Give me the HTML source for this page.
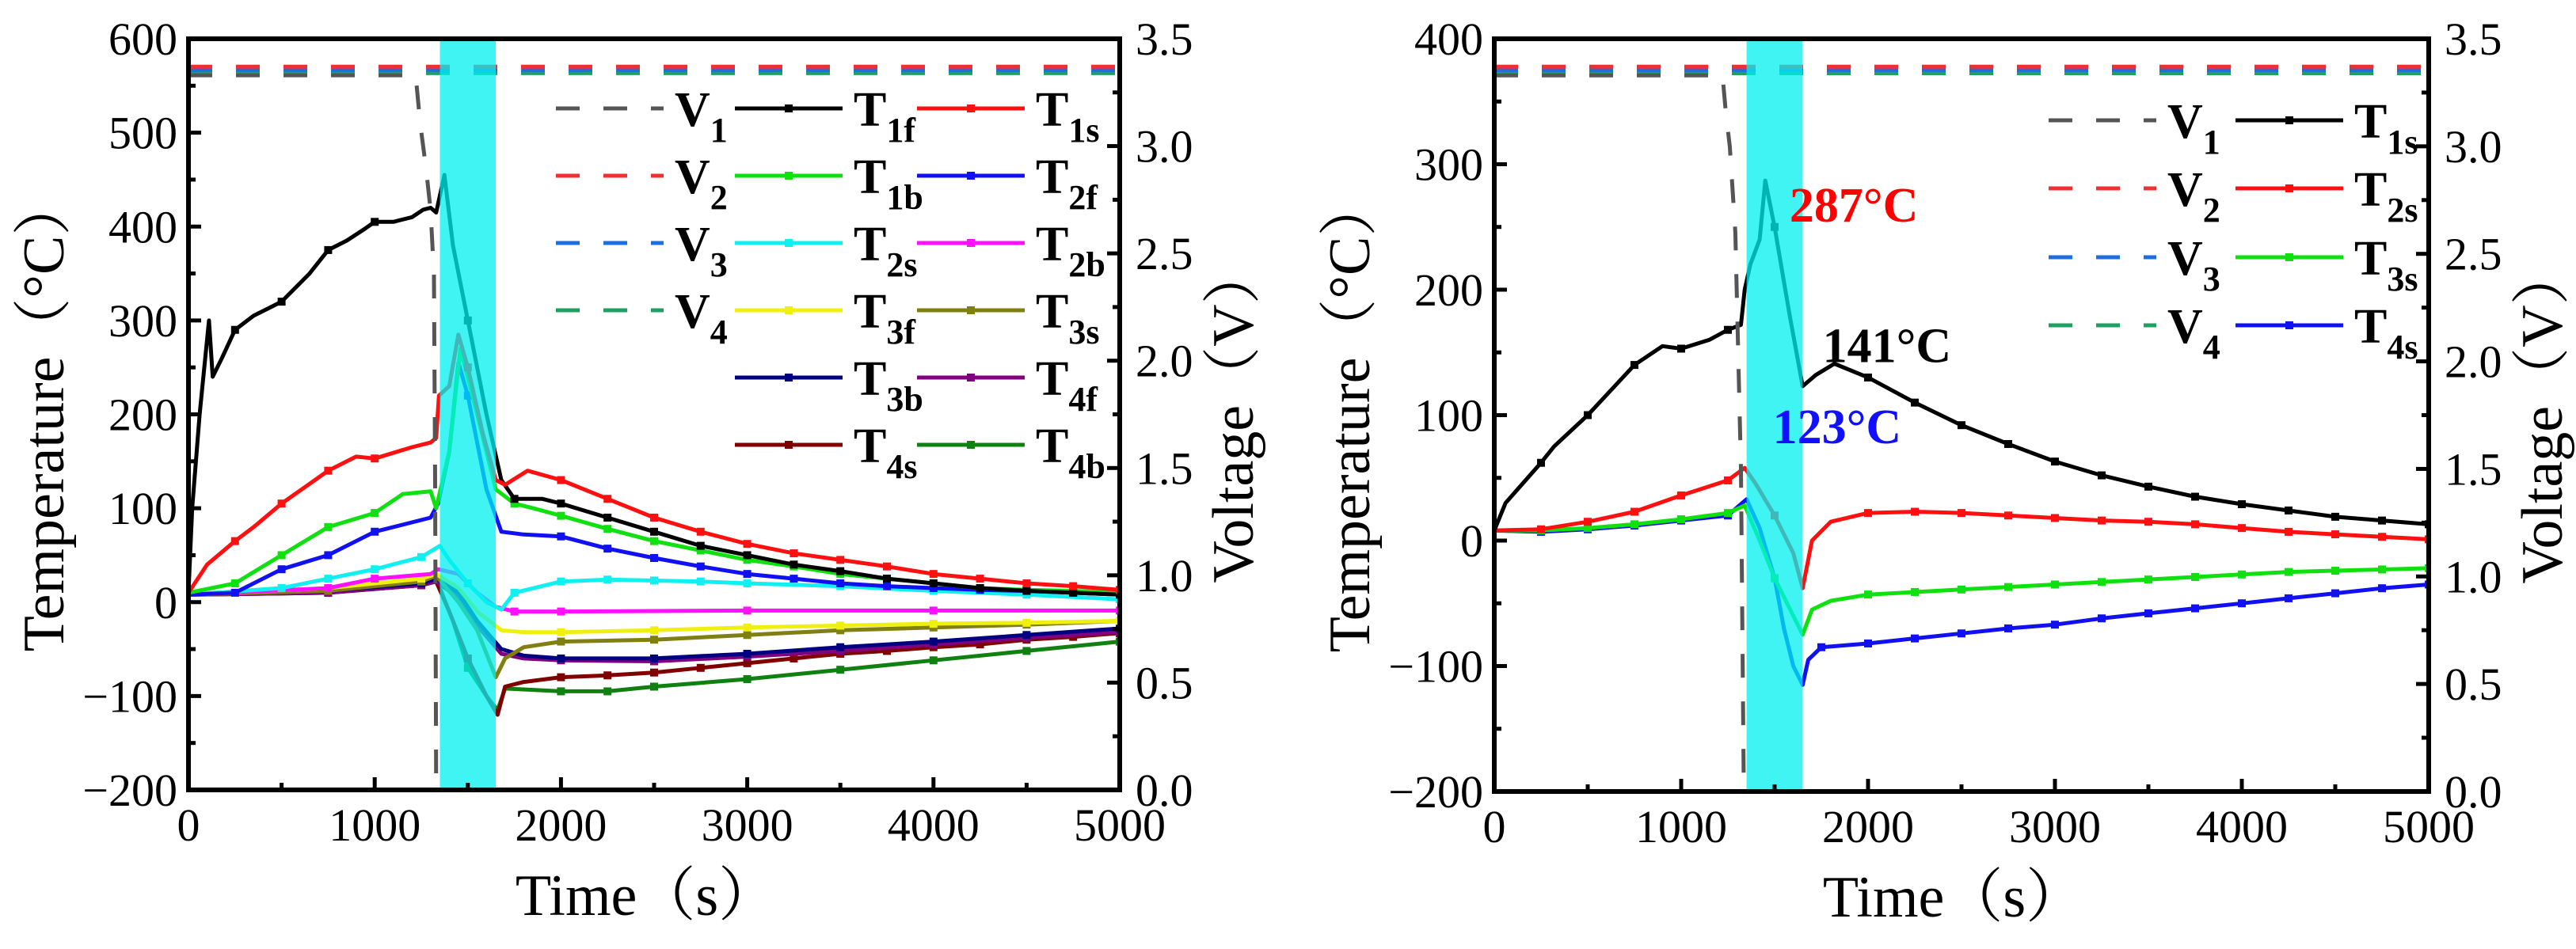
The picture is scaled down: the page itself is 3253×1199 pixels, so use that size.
<!DOCTYPE html>
<html><head><meta charset="utf-8"><style>
html,body{margin:0;padding:0;background:#fff;}
svg{display:block;font-family:"Liberation Serif","Noto Serif CJK SC",serif;}
</style></head><body>
<svg id="fig" width="3253" height="1199" viewBox="0 0 3253 1199" xmlns="http://www.w3.org/2000/svg"></svg>
<script>
// ---------- data: left chart ----------
const timeTicks = [0,1000,2000,3000,4000,5000];
const tempTicksL = [-200,-100,0,100,200,300,400,500,600];
const tempTicksR = [-200,-100,0,100,200,300,400];
const voltTicks = ["0.0","0.5","1.0","1.5","2.0","2.5","3.0","3.5"];
const bandTimes = [1350,1650];

const V1_L = [[0,3.33],[1220,3.33],[1245,3.1],[1275,2.9],[1300,2.7],[1318,2.4],[1324,1.5],[1330,0],[5000,0]];
const V2_L = [[0,3.37],[5000,3.37]];
const V3_L = [[0,3.355],[5000,3.355]];
const V4_L = [[0,3.34],[5000,3.34]];

const T1f = [[0,10],[20,100],[60,200],[110,300],[130,240],[180,260],[250,290],[350,305],[450,315],[500,320],[650,350],[750,375],[850,385],[950,398],[1000,405],[1100,405],[1200,410],[1260,418],[1300,420],[1330,415],[1374,455],[1420,380],[1500,300],[1600,200],[1680,130],[1750,110],[1900,110],[2000,105],[2250,90],[2500,75],[2750,60],[3000,50],[3250,40],[3500,33],[3750,25],[4000,20],[4250,15],[4500,12],[4750,10],[5000,8]];
const T1s = [[0,10],[100,40],[250,65],[350,80],[500,105],[750,140],[900,155],[1000,153],[1200,165],[1300,170],[1330,175],[1345,220],[1400,230],[1449,285],[1500,250],[1580,180],[1650,130],[1700,125],[1820,140],[2000,130],[2250,110],[2500,90],[2750,75],[3000,62],[3250,52],[3500,45],[3750,38],[4000,30],[4250,25],[4500,20],[4750,17],[5000,13]];
const T1b = [[0,10],[250,20],[500,50],[750,80],[1000,95],[1150,115],[1300,118],[1330,100],[1400,160],[1460,270],[1550,200],[1650,120],[1750,105],[1850,100],[2000,92],[2250,78],[2500,65],[2750,55],[3000,45],[3250,38],[3500,30],[3750,25],[4000,20],[4250,15],[4500,13],[4750,12],[5000,10]];
const T2f = [[0,8],[250,10],[500,35],[750,50],[1000,75],[1300,90],[1340,105],[1400,160],[1450,255],[1500,220],[1600,120],[1680,75],[1800,72],[2000,70],[2250,57],[2500,47],[2750,38],[3000,30],[3250,25],[3500,20],[3750,17],[4000,15],[4250,13],[4500,12],[4750,10],[5000,8]];
const T2s = [[0,8],[500,15],[750,25],[1000,35],[1250,48],[1350,60],[1400,45],[1500,20],[1600,0],[1680,-8],[1750,10],[2000,22],[2250,24],[2500,23],[2750,22],[3000,20],[3500,17],[4000,12],[4500,8],[5000,3]];
const T2b = [[0,8],[750,15],[1000,25],[1300,30],[1340,35],[1450,30],[1550,10],[1650,-5],[1750,-10],[2000,-10],[3000,-9],[4000,-9],[5000,-9]];
const T3f = [[0,8],[750,15],[1250,25],[1330,30],[1450,15],[1550,-10],[1680,-30],[1800,-32],[2000,-32],[2500,-30],[3000,-27],[3500,-25],[4000,-23],[4500,-22],[5000,-20]];
const T3s = [[0,8],[750,12],[1250,22],[1330,28],[1450,0],[1550,-30],[1650,-80],[1700,-60],[1800,-48],[2000,-42],[2500,-40],[3000,-35],[3500,-30],[4000,-27],[4500,-24],[5000,-20]];
const T3b = [[0,8],[750,12],[1250,20],[1330,25],[1450,10],[1550,-20],[1680,-50],[1800,-57],[2000,-60],[2500,-60],[3000,-55],[3500,-48],[4000,-42],[4500,-35],[5000,-28]];
const T4f = [[0,8],[750,10],[1250,18],[1330,22],[1450,5],[1550,-25],[1680,-55],[1800,-60],[2000,-62],[2500,-63],[3000,-58],[3500,-52],[4000,-45],[4500,-38],[5000,-32]];
const T4s = [[0,8],[750,10],[1250,18],[1330,22],[1400,-10],[1500,-60],[1600,-100],[1660,-120],[1700,-90],[1800,-85],[2000,-80],[2250,-78],[2500,-75],[2750,-70],[3000,-65],[3250,-60],[3500,-55],[3750,-52],[4000,-48],[4250,-45],[4500,-40],[4750,-37],[5000,-33]];
const T4b = [[0,8],[750,10],[1250,20],[1330,25],[1420,-20],[1500,-70],[1600,-100],[1660,-115],[1700,-92],[2000,-95],[2250,-95],[2500,-90],[3000,-82],[3500,-72],[4000,-62],[4500,-52],[5000,-42]];

// ---------- data: right chart ----------
const V1_R = [[0,3.33],[1221,3.33],[1240,3.15],[1260,3.0],[1290,2.6],[1320,1.5],[1335,0],[5000,0]];
const V2_R = [[0,3.37],[5000,3.37]];
const V3_R = [[0,3.355],[5000,3.355]];
const V4_R = [[0,3.34],[5000,3.34]];
const R_T1s = [[0,8],[60,30],[250,62],[320,75],[500,100],[750,140],[900,155],[1000,153],[1150,160],[1250,168],[1320,172],[1340,200],[1370,220],[1420,240],[1450,287],[1500,250],[1580,180],[1650,123],[1720,132],[1820,141],[2000,130],[2250,110],[2500,92],[2750,77],[3000,63],[3250,52],[3500,43],[3750,35],[4000,29],[4250,24],[4500,19],[4750,16],[5000,13]];
const R_T2s = [[0,8],[250,9],[500,15],[750,23],[1000,36],[1250,48],[1340,58],[1400,45],[1500,20],[1600,-10],[1650,-38],[1700,0],[1800,15],[2000,22],[2250,23],[2500,22],[2750,20],[3000,18],[3250,16],[3500,15],[3750,13],[4000,10],[4250,7],[4500,5],[4750,3],[5000,1]];
const R_T3s = [[0,8],[250,8],[500,10],[750,13],[1000,17],[1250,22],[1340,28],[1420,0],[1500,-30],[1600,-60],[1650,-75],[1700,-55],[1800,-48],[2000,-43],[2250,-41],[2500,-39],[2750,-37],[3000,-35],[3250,-33],[3500,-31],[3750,-29],[4000,-27],[4250,-25],[4500,-24],[4750,-23],[5000,-22]];
const R_T4s = [[0,8],[250,7],[500,9],[750,12],[1000,16],[1250,20],[1350,33],[1420,10],[1500,-30],[1550,-70],[1600,-100],[1650,-115],[1680,-95],[1750,-85],[2000,-82],[2250,-78],[2500,-74],[2750,-70],[3000,-67],[3250,-62],[3500,-58],[3750,-54],[4000,-50],[4250,-46],[4500,-42],[4750,-38],[5000,-35]];
const annLabels = ["287°C","141°C","123°C"];
const annValues = [[1580,287],[1757,141],[1490,123]];

// ---------- drawing ----------
const NS = "http://www.w3.org/2000/svg";
const svg = document.getElementById("fig");
function mk(tag, attrs, parent){
  const e = document.createElementNS(NS, tag);
  for (const k in attrs) e.setAttribute(k, attrs[k]);
  (parent||svg).appendChild(e);
  return e;
}

function drawChart(o){
  const g = mk("g", {});
  
  
  const xs = t => o.x0 + (t/5000)*(o.x1-o.x0);
  const ys = v => o.y1 - (v-o.tmin)/(o.tmax-o.tmin)*(o.y1-o.y0);
  const vs = v => o.y1 - (v/3.5)*(o.y1-o.y0);
  const clip = mk("clipPath", {id:o.name+"-clip"}, g);
  mk("rect",{x:o.x0,y:o.y0,width:o.x1-o.x0,height:o.y1-o.y0},clip);
  const plot = mk("g",{"clip-path":"url(#"+o.name+"-clip)"},g);
  
  
  o.series.forEach(s=>{
    const d = s.data.map((p,i)=>(i?"L":"M")+xs(p[0]).toFixed(1)+" "+ys(p[1]).toFixed(1)).join("");
    const path = mk("path",{d:d,fill:"none",stroke:s.color,"stroke-width":5,"stroke-linejoin":"round"},plot);
    
    
    s.data.forEach(p=>{
      if (p[0]%250===0 && p[0]>0){
        const m = mk("rect",{x:xs(p[0])-5,y:ys(p[1])-5,width:10,height:10,fill:s.color},plot);
        
        
      }
    });
  });
  o.vseries.forEach(s=>{
    const d = s.data.map((p,i)=>(i?"L":"M")+xs(p[0]).toFixed(1)+" "+vs(p[1]).toFixed(1)).join("");
    const path = mk("path",{d:d,fill:"none",stroke:s.color,"stroke-width":5,"stroke-dasharray":"30 30"},plot);
    
    
  });
  const band = mk("rect",{x:xs(bandTimes[0]),y:o.y0,width:xs(bandTimes[1])-xs(bandTimes[0]),height:o.y1-o.y0,fill:"#00f0f0","fill-opacity":0.75},plot);
  
  
  const fr = mk("rect",{x:o.x0,y:o.y0,width:o.x1-o.x0,height:o.y1-o.y0,fill:"none",stroke:"#000","stroke-width":6},g);
  
  
  for (let t=0;t<=5000;t+=500){
    const L = t%1000===0?16:9;
    mk("line",{x1:xs(t),x2:xs(t),y1:o.y1,y2:o.y1-L,stroke:"#000","stroke-width":5},g);
  }
  timeTicks.forEach(t=>{
    const tx = mk("text",{x:xs(t),y:o.y1+64,"text-anchor":"middle","font-size":58},g);
    tx.textContent = t;
    
    
  });
  for (let v=o.tmin; v<=o.tmax; v+=50){
    const L = v%100===0?16:9;
    mk("line",{x1:o.x0,x2:o.x0+L,y1:ys(v),y2:ys(v),stroke:"#000","stroke-width":5},g);
  }
  o.tticks.forEach(v=>{
    const tx = mk("text",{x:o.x0-14,y:ys(v)+20,"text-anchor":"end","font-size":58},g);
    tx.textContent = v<0 ? "\u2212"+(-v) : v;
    
    
  });
  for (let k=0;k<=14;k++){
    const v = k*0.25, L = k%2===0?16:9;
    mk("line",{x1:o.x1,x2:o.x1-L,y1:vs(v),y2:vs(v),stroke:"#000","stroke-width":5},g);
  }
  voltTicks.forEach(s=>{
    const tx = mk("text",{x:o.x1+20,y:vs(parseFloat(s))+20,"font-size":58},g);
    tx.textContent = s;
    
    
  });
  const yt = mk("text",{x:0,y:0,"text-anchor":"middle","font-size":74,transform:"translate("+(o.x0-158)+","+((o.y0+o.y1)/2)+") rotate(-90)"},g);
  yt.textContent = "Temperature（°C）";
  
  
  const vt = mk("text",{x:0,y:0,"text-anchor":"middle","font-size":74,transform:"translate("+(o.x1+168)+","+((o.y0+o.y1)/2)+") rotate(-90)"},g);
  vt.textContent = "Voltage（V）";
  
  
  const xt = mk("text",{x:(o.x0+o.x1)/2-10,y:o.y1+158,"text-anchor":"middle","font-size":74},g);
  xt.textContent = "Time（s）";
  
  
  o.legend.forEach(e=>{
    const lg = mk("g",{},g);
    
    
    const attrs = {x1:e.x,x2:e.x+136,y1:e.y,y2:e.y,stroke:e.color,"stroke-width":5};
    if (e.dash) attrs["stroke-dasharray"]="30 30";
    mk("line",attrs,lg);
    if (!e.dash) mk("rect",{x:e.x+63,y:e.y-5,width:10,height:10,fill:e.color},lg);
    const t = mk("text",{x:e.x+150,y:e.y+22,"font-size":62,"font-weight":"bold"},lg);
    t.textContent = e.main;
    const sub = mk("tspan",{"font-size":44,dy:20,"font-weight":"bold"},t);
    sub.textContent = e.sub;
  });
}

const colL = {T1f:"#000000",T1s:"#ff1010",T1b:"#10e010",T2f:"#1010f0",T2s:"#10f0f0",T2b:"#ff10ff",T3f:"#f0f010",T3s:"#808010",T3b:"#000080",T4f:"#800080",T4s:"#800000",T4b:"#108010"};
const vcol = ["#555555","#f03030","#1e6ee0","#20a060"];

drawChart({
  name:"left-chart", x0:238, x1:1414, y0:49, y1:998, tmin:-200, tmax:600, tticks:tempTicksL,
  series:[
    {id:"T4b",data:T4b,color:colL.T4b},{id:"T4s",data:T4s,color:colL.T4s},{id:"T4f",data:T4f,color:colL.T4f},
    {id:"T3b",data:T3b,color:colL.T3b},{id:"T3s",data:T3s,color:colL.T3s},{id:"T3f",data:T3f,color:colL.T3f},
    {id:"T2b",data:T2b,color:colL.T2b},{id:"T2s",data:T2s,color:colL.T2s},{id:"T2f",data:T2f,color:colL.T2f},
    {id:"T1b",data:T1b,color:colL.T1b},{id:"T1f",data:T1f,color:colL.T1f},{id:"T1s",data:T1s,color:colL.T1s}],
  vseries:[{id:"V4",data:V4_L,color:vcol[3]},{id:"V3",data:V3_L,color:vcol[2]},{id:"V2",data:V2_L,color:vcol[1]},{id:"V1",data:V1_L,color:vcol[0]}],
  legend:[
    {id:"V1",x:702,y:137,color:vcol[0],dash:1,main:"V",sub:"1"},
    {id:"V2",x:702,y:222,color:vcol[1],dash:1,main:"V",sub:"2"},
    {id:"V3",x:702,y:307,color:vcol[2],dash:1,main:"V",sub:"3"},
    {id:"V4",x:702,y:392,color:vcol[3],dash:1,main:"V",sub:"4"},
    {id:"T1f",x:928,y:137,color:colL.T1f,main:"T",sub:"1f"},
    {id:"T1b",x:928,y:222,color:colL.T1b,main:"T",sub:"1b"},
    {id:"T2s",x:928,y:307,color:colL.T2s,main:"T",sub:"2s"},
    {id:"T3f",x:928,y:392,color:colL.T3f,main:"T",sub:"3f"},
    {id:"T3b",x:928,y:477,color:colL.T3b,main:"T",sub:"3b"},
    {id:"T4s",x:928,y:562,color:colL.T4s,main:"T",sub:"4s"},
    {id:"T1s",x:1158,y:137,color:colL.T1s,main:"T",sub:"1s"},
    {id:"T2f",x:1158,y:222,color:colL.T2f,main:"T",sub:"2f"},
    {id:"T2b",x:1158,y:307,color:colL.T2b,main:"T",sub:"2b"},
    {id:"T3s",x:1158,y:392,color:colL.T3s,main:"T",sub:"3s"},
    {id:"T4f",x:1158,y:477,color:colL.T4f,main:"T",sub:"4f"},
    {id:"T4b",x:1158,y:562,color:colL.T4b,main:"T",sub:"4b"}]
});

drawChart({
  name:"right-chart", x0:1887, x1:3067, y0:49, y1:1000, tmin:-200, tmax:400, tticks:tempTicksR,
  series:[{id:"T4s",data:R_T4s,color:"#1010f0"},{id:"T3s",data:R_T3s,color:"#10e010"},{id:"T2s",data:R_T2s,color:"#ff1010"},{id:"T1s",data:R_T1s,color:"#000000"}],
  vseries:[{id:"V4",data:V4_R,color:vcol[3]},{id:"V3",data:V3_R,color:vcol[2]},{id:"V2",data:V2_R,color:vcol[1]},{id:"V1",data:V1_R,color:vcol[0]}],
  legend:[
    {id:"V1",x:2587,y:152,color:vcol[0],dash:1,main:"V",sub:"1"},
    {id:"V2",x:2587,y:238,color:vcol[1],dash:1,main:"V",sub:"2"},
    {id:"V3",x:2587,y:325,color:vcol[2],dash:1,main:"V",sub:"3"},
    {id:"V4",x:2587,y:411,color:vcol[3],dash:1,main:"V",sub:"4"},
    {id:"T1s",x:2823,y:152,color:"#000000",main:"T",sub:"1s"},
    {id:"T2s",x:2823,y:238,color:"#ff1010",main:"T",sub:"2s"},
    {id:"T3s",x:2823,y:325,color:"#10e010",main:"T",sub:"3s"},
    {id:"T4s",x:2823,y:411,color:"#1010f0",main:"T",sub:"4s"}]
});

(function(){
  const x0=1887,x1=3067,y0=49,y1=1000;
  const xs = t => x0 + t/5000*(x1-x0);
  const ys = v => y1 - (v+200)/600*(y1-y0);
  const colors = ["#ff0000","#000000","#1010ff"];
  const offs = [52,-2,72];
  annLabels.forEach((s,i)=>{
    const t = mk("text",{x:xs(annValues[i][0]),y:ys(annValues[i][1])+offs[i],"font-size":62,"font-weight":"bold",fill:colors[i]});
    t.textContent = s;
    
    
  });
})();
</script>
</body></html>
